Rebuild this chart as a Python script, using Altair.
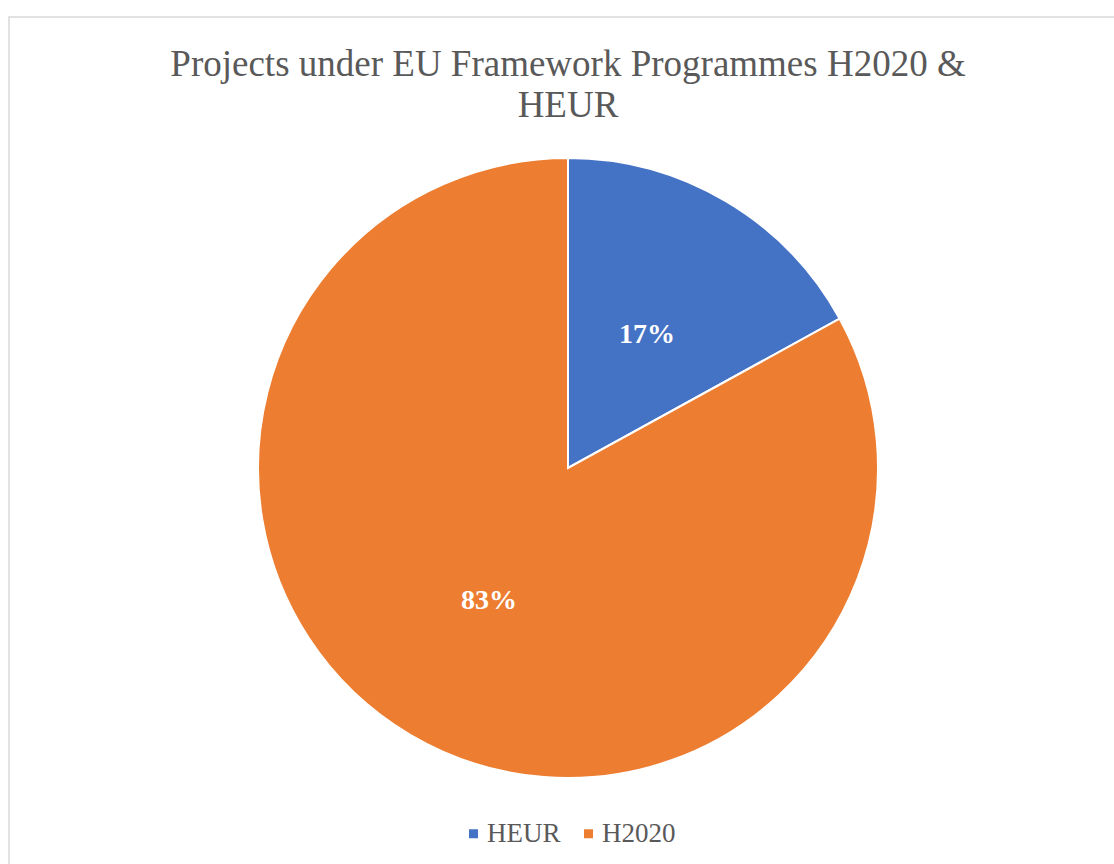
import altair as alt
import pandas as pd

# Share of projects by framework programme
programmes = ["HEUR", "H2020"]
shares = [17, 83]
share_labels = ["17%", "83%"]
colors = ["#4472C4", "#ED7D31"]

title_lines = ["Projects under EU Framework Programmes H2020 &", "HEUR"]

pie_df = pd.DataFrame({
    "programme": programmes,
    "share": shares,
    "label": share_labels,
    "order": list(range(len(programmes))),
})

W, H = 1114, 864
CX, CY, R = 568, 468, 310
SERIF = "Liberation Serif"
GREY = "#595959"

color = alt.Color(
    "programme:N",
    scale=alt.Scale(domain=programmes, range=colors),
    sort=programmes,
    legend=alt.Legend(
        title=None,
        orient="none",
        direction="horizontal",
        legendX=460,
        legendY=820,
        symbolType="square",
        symbolSize=81,
        symbolStrokeWidth=0,
        labelFont=SERIF,
        labelFontSize=27,
        labelColor=GREY,
        labelOffset=0,
        columnPadding=14,
        padding=0,
    ),
)

theta = alt.Theta("share:Q", stack=True)
order = alt.Order("order:Q", sort="ascending")

# chart frame
frame = alt.Chart(pd.DataFrame({"k": [0]})).mark_rect(
    fill=None, stroke="#d9d9d9", strokeWidth=1.5
).encode(
    x=alt.value(9), x2=alt.value(W + 50),
    y=alt.value(17), y2=alt.value(H + 50),
)

base = alt.Chart(pie_df).encode(
    theta=theta, order=order,
    x=alt.value(CX), y=alt.value(CY),
)

slices = base.mark_arc(outerRadius=R, stroke="white", strokeWidth=2).encode(color=color)

labels = base.mark_text(
    radius=155, font=SERIF, fontSize=28, fontWeight="bold", color="white"
).encode(text="label:N")

chart = alt.layer(frame, slices, labels).properties(
    width=W,
    height=H,
    padding=0,
    autosize=alt.AutoSizeParams(type="none"),
    title=alt.TitleParams(
        text=title_lines,
        font=SERIF,
        fontSize=37,
        fontWeight="normal",
        color=GREY,
        anchor="middle",
        baseline="top",
        offset=0,
        dx=11,
        dy=125,
        lineHeight=41,
    ),
).configure_view(stroke=None).configure_legend(labelFont=SERIF)

chart.save("out.html", embed_options={"renderer": "svg", "actions": False})
